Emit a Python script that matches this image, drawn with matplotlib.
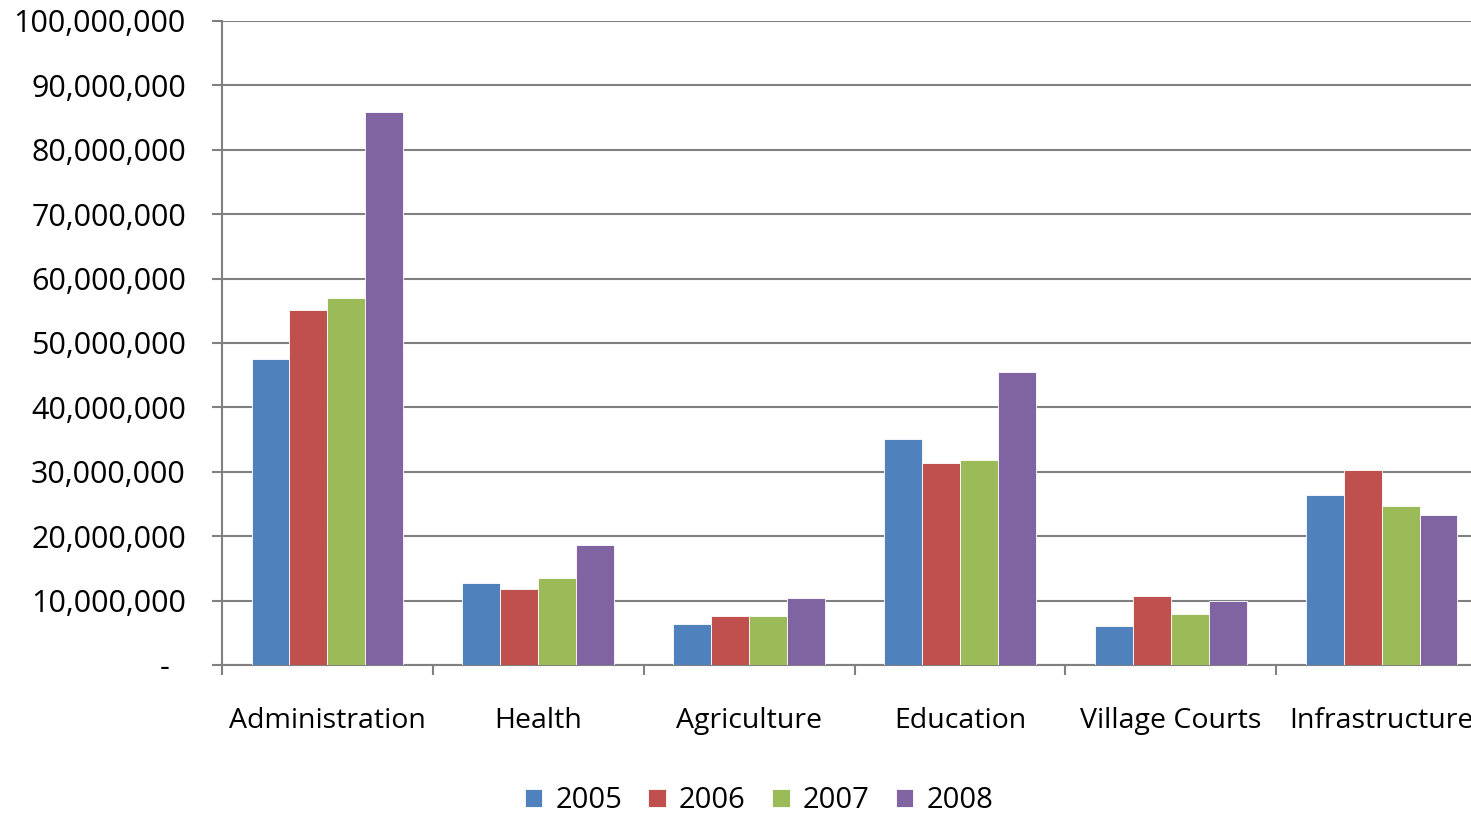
import matplotlib
matplotlib.use("Agg")
import matplotlib.pyplot as plt
import matplotlib.ticker as mticker
import numpy as np

plt.rcParams['font.family'] = ['Open Sans', 'DejaVu Sans']

categories = ["Administration", "Health", "Agriculture", "Education",
              "Village Courts", "Infrastructure"]
years = ["2005", "2006", "2007", "2008"]
v2005 = [47.5e6, 12.7e6, 6.4e6, 35.1e6, 6.1e6, 26.4e6]
v2006 = [55.2e6, 11.8e6, 7.6e6, 31.4e6, 10.7e6, 30.3e6]
v2007 = [57.0e6, 13.5e6, 7.6e6, 31.8e6, 7.9e6, 24.7e6]
v2008 = [85.9e6, 18.6e6, 10.4e6, 45.5e6, 9.9e6, 23.3e6]
colors = ["#4F81BD", "#C0504D", "#9BBB59", "#8064A2"]

fig = plt.figure(figsize=(14.71, 8.19), dpi=100)
# plot area runs a little past the right edge, like the original
ax = fig.add_axes([222 / 1471, 1 - 665 / 819, 1265 / 1471, 644 / 819])

grey = "#808080"
bw = 0.18
x = np.arange(len(categories)) + 0.5
for i, (vals, c, yr) in enumerate(zip([v2005, v2006, v2007, v2008], colors, years)):
    ax.bar(x + (i - 1.5) * bw, vals, width=bw, color=c, edgecolor="white",
           linewidth=0.6, label=yr, zorder=3)

ax.set_xlim(0, len(categories))
ax.set_ylim(0, 100e6)
ax.set_yticks(np.arange(0, 100e6 + 1, 10e6))
ax.yaxis.set_major_formatter(mticker.FuncFormatter(
    lambda v, p: "-  " if v == 0 else f"{int(v):,}"))
ax.grid(axis="y", color=grey, linewidth=1.5, zorder=0)
ax.set_axisbelow(True)

for s in ["top", "right"]:
    ax.spines[s].set_visible(False)
for s in ["left", "bottom"]:
    ax.spines[s].set_color(grey)
    ax.spines[s].set_linewidth(1.5)

ax.tick_params(axis="y", length=7, width=1.5, color=grey, pad=19, labelsize=22)
ax.set_xticks(np.arange(len(categories) + 1))
ax.set_xticklabels([])
ax.set_xticks(x, minor=True)
ax.set_xticklabels(categories, minor=True)
ax.tick_params(axis="x", which="major", length=7, width=1.5, color=grey)
ax.tick_params(axis="x", which="minor", length=0, pad=30, labelsize=20.5)

fig.legend(loc="center", bbox_to_anchor=(0.516, 0.022), ncol=4, frameon=False,
           fontsize=21, handlelength=0.6, handleheight=0.6,
           handletextpad=0.45, columnspacing=0.9, borderpad=0.2)

fig.savefig("out.png", dpi=100)
